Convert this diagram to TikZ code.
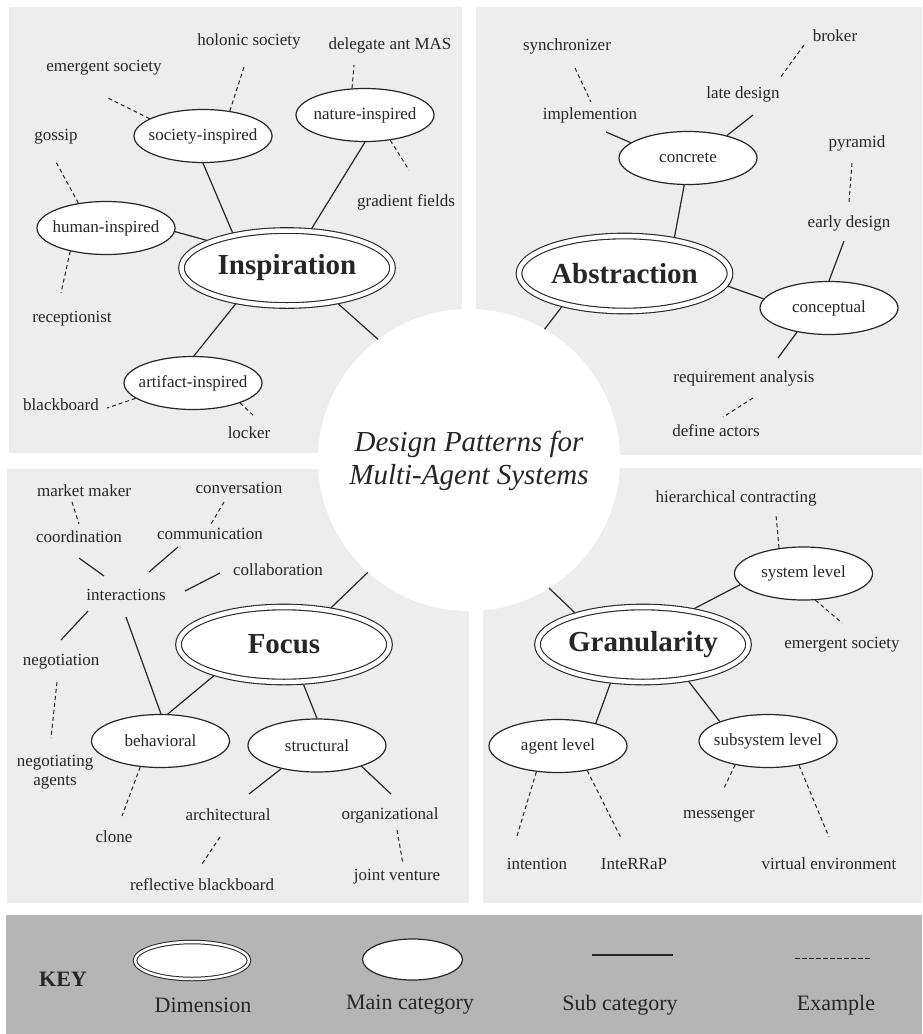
\documentclass[tikz,border=0pt]{standalone}
\usepackage{fontspec}
\setmainfont{Liberation Serif}
\usetikzlibrary{shapes.geometric}
\definecolor{panel}{HTML}{EDEDED}
\definecolor{keybg}{HTML}{B5B5B5}
\definecolor{ink}{HTML}{262626}
\begin{document}
\begin{tikzpicture}[x=1pt,y=-1pt,
  dimnode/.style={ellipse, draw=ink, double=white, double distance=4.5pt, line width=1.1pt,
    fill=white, minimum width=211pt, minimum height=75pt, inner sep=0pt, outer sep=3.35pt,
    text=ink, font=\fontsize{29}{34}\selectfont\bfseries},
  catnode/.style={ellipse, draw=ink, line width=1.2pt, fill=white, minimum width=138pt,
    minimum height=53pt, inner sep=0pt, text=ink, font=\fontsize{17}{20}\selectfont},
  lbl/.style={inner sep=0pt, text=ink, font=\fontsize{17}{20}\selectfont},
  keylbl/.style={inner sep=0pt, text=ink, font=\fontsize{22}{26}\selectfont},
  sub/.style={draw=ink, line width=1.2pt},
  ex/.style={draw=ink, line width=1pt, dash pattern=on 4pt off 3pt}
]
\useasboundingbox (0,0) rectangle (922,1034);
% panels
\fill[panel] (9,7) rectangle (462,453);
\fill[panel] (476,7) rectangle (922,455);
\fill[panel] (7,469) rectangle (469,903);
\fill[panel] (483,468) rectangle (922,903);
\fill[keybg] (6,915) rectangle (922,1034);

% central circle
\node[circle, fill=white, minimum size=302pt, inner sep=0pt, outer sep=0pt] (core) at (469,460) {};
\node[align=center, text=ink, font=\fontsize{29}{33}\selectfont\itshape, inner sep=0pt] (title) at (469,461)
  {Design Patterns for\\Multi-Agent Systems};

% ---------------- Inspiration ----------------
\node[dimnode] (insp) at (287,268) {\makebox[0pt]{Inspiration}};
\node[catnode] (soc) at (203,136) {\makebox[0pt]{society-inspired}};
\node[catnode] (nat) at (365,115) {\makebox[0pt]{nature-inspired}};
\node[catnode] (hum) at (106,228) {\makebox[0pt]{human-inspired}};
\node[catnode] (art) at (193,383) {\makebox[0pt]{artifact-inspired}};

\node[lbl] (holonic) at (249,41) {holonic society};
\node[lbl] (delegate) at (390,45) {delegate ant MAS};
\node[lbl] (emergentA) at (104,68) {emergent society};
\node[lbl] (gossip) at (56,137) {gossip};
\node[lbl] (gradient) at (406,202) {gradient fields};
\node[lbl] (recept) at (72,319) {receptionist};
\node[lbl] (blackb) at (61,405) {blackboard};
\node[lbl] (locker) at (249,433) {locker};

\coordinate (hol-e) at (244,67);
\coordinate (emg-e) at (108,98);
\coordinate (del-e) at (354,65);
\coordinate (gra-e) at (409,170);
\coordinate (gos-e) at (56,162);
\coordinate (rec-e) at (61,293);
\coordinate (bla-e) at (107,408);
\coordinate (loc-e) at (254,416);
\draw[ex] (soc.43) -- (hol-e);
\draw[ex] (soc.162) -- (emg-e);
\draw[ex] (nat.116) -- (del-e);
\draw[ex] (nat.-45) -- (gra-e);
\draw[ex] (hum.138) -- (gos-e);
\draw[ex] (hum.213) -- (rec-e);
\draw[ex] (art.195) -- (bla-e);
\draw[ex] (art.-23) -- (loc-e);
\draw[sub] (soc.270) -- (insp.147);
\draw[sub] (nat.270) -- (insp.58);
\draw[sub] (hum.-3) -- (insp.161);
\draw[sub] (art.88) -- (insp.215);
\draw[sub] (insp.325) -- (core.127);

% ---------------- Abstraction ----------------
\node[dimnode] (abs) at (624.5,273.5) {\makebox[0pt]{Abstraction}};
\node[catnode] (con) at (688,158) {\makebox[0pt]{concrete}};
\node[catnode] (cpt) at (829,308) {\makebox[0pt]{conceptual}};

\node[lbl] (synch) at (567,46) {synchronizer};
\node[lbl] (broker) at (835,36) {broker};
\node[lbl] (late) at (743,94) {late design};
\node[lbl] (implem) at (590,115) {implemention};
\node[lbl] (pyramid) at (857,143) {pyramid};
\node[lbl] (early) at (849,223) {early design};
\node[lbl] (reqan) at (744,378) {requirement analysis};
\node[lbl] (defact) at (716,431) {define actors};

\coordinate (imp-e) at (606,132);
\coordinate (late-e) at (753,115);
\coordinate (syn-a) at (575,68);
\coordinate (syn-b) at (591,102);
\coordinate (bro-a) at (804,45);
\coordinate (bro-b) at (780,78);
\coordinate (pyr-a) at (852,163);
\coordinate (pyr-b) at (849,202);
\coordinate (early-e) at (844,241);
\coordinate (req-e) at (778,358);
\coordinate (def-a) at (753,398);
\coordinate (def-b) at (723,417);
\draw[sub] (con.262) -- (abs.36);
\draw[sub] (abs.-7) -- (cpt.172);
\draw[sub] (abs.208) -- (core.60);
\draw[sub] (con.165) -- (imp-e);
\draw[sub] (con.30) -- (late-e);
\draw[ex] (syn-a) -- (syn-b);
\draw[ex] (bro-a) -- (bro-b);
\draw[ex] (pyr-a) -- (pyr-b);
\draw[sub] (cpt.90) -- (early-e);
\draw[sub] (cpt.217) -- (req-e);
\draw[ex] (def-a) -- (def-b);

% ---------------- Focus ----------------
\node[dimnode] (foc) at (284,644.5) {\makebox[0pt]{Focus}};
\node[catnode] (beh) at (160.5,741) {\makebox[0pt]{behavioral}};
\node[catnode] (str) at (317,745.5) {\makebox[0pt]{structural}};

\node[lbl] (market) at (84,491) {market maker};
\node[lbl] (convers) at (239,488) {conversation};
\node[lbl] (coord) at (79,537) {coordination};
\node[lbl] (commun) at (210,534) {communication};
\node[lbl] (collab) at (278,570) {collaboration};
\node[lbl] (interact) at (126,595) {interactions};
\node[lbl] (negot) at (61,662) {negotiation};
\node[lbl, align=center] (negag) at (55,772) {negotiating\\[-1pt]agents};
\node[lbl] (clone) at (114,837) {clone};
\node[lbl] (archit) at (228,815) {architectural};
\node[lbl] (organ) at (390,815) {organizational};
\node[lbl] (reflect) at (202,885) {reflective blackboard};
\node[lbl] (joint) at (397,877) {joint venture};

\coordinate (int-beh) at (126,617);
\coordinate (clo-e) at (122,816);
\coordinate (arc-e) at (249,794);
\coordinate (org-e) at (391,794);
\coordinate (mm-a) at (72,502);
\coordinate (mm-b) at (79,524);
\coordinate (cv-a) at (224,502);
\coordinate (cv-b) at (211,524);
\coordinate (co-a) at (79,558);
\coordinate (co-b) at (104,576);
\coordinate (cm-a) at (178,547);
\coordinate (cm-b) at (149,572);
\coordinate (cl-a) at (220,573);
\coordinate (cl-b) at (185,591);
\coordinate (ng-a) at (88,611);
\coordinate (ng-b) at (61,640);
\coordinate (na-a) at (57,682);
\coordinate (na-b) at (51,738);
\coordinate (rf-a) at (220,837);
\coordinate (rf-b) at (202,864);
\coordinate (jv-a) at (397,830);
\coordinate (jv-b) at (403,864);
\draw[sub] (foc.204) -- (beh.75);
\draw[sub] (foc.-64) -- (str.90);
\draw[sub] (foc.38) -- (core.228);
\draw[sub] (int-beh) -- (beh.89);
\draw[ex] (beh.232) -- (clo-e);
\draw[sub] (str.213) -- (arc-e);
\draw[sub] (str.-25) -- (org-e);
\draw[ex] (mm-a) -- (mm-b);
\draw[ex] (cv-a) -- (cv-b);
\draw[sub] (co-a) -- (co-b);
\draw[sub] (cm-a) -- (cm-b);
\draw[sub] (cl-a) -- (cl-b);
\draw[sub] (ng-a) -- (ng-b);
\draw[ex] (na-a) -- (na-b);
\draw[ex] (rf-a) -- (rf-b);
\draw[ex] (jv-a) -- (jv-b);

% ---------------- Granularity ----------------
\node[dimnode] (gran) at (643,644.5) {\makebox[0pt]{Granularity}};
\node[catnode] (sys) at (803.5,573.5) {\makebox[0pt]{system level}};
\node[catnode] (agt) at (558,746) {\makebox[0pt]{agent level}};
\node[catnode] (subs) at (768,741) {\makebox[0pt]{subsystem level}};

\node[lbl] (hierc) at (736,498) {hierarchical contracting};
\node[lbl] (emergentB) at (842,645) {emergent society};
\node[lbl] (messenger) at (719,816) {messenger};
\node[lbl] (intention) at (537,864) {intention};
\node[lbl] (interrap) at (634,864) {InteRRaP};
\node[lbl] (virtual) at (829,864) {virtual environment};

\coordinate (hie-e) at (776,515);
\coordinate (emb-e) at (842,623);
\coordinate (itn-e) at (517,836);
\coordinate (irr-e) at (621,838);
\coordinate (mes-e) at (723,790);
\coordinate (vir-e) at (829,837);
\draw[sub] (core.-58) -- (gran.155);
\draw[sub] (gran.35) -- (sys.190);
\draw[sub] (gran.230) -- (agt.31);
\draw[sub] (gran.-39) -- (subs.158);
\draw[ex] (sys.134) -- (hie-e);
\draw[ex] (sys.-66) -- (emb-e);
\draw[ex] (agt.230) -- (itn-e);
\draw[ex] (agt.-40) -- (irr-e);
\draw[ex] (subs.216) -- (mes-e);
\draw[ex] (subs.-38) -- (vir-e);

% ---------------- Key ----------------
\node[inner sep=0pt, text=ink, font=\fontsize{22}{26}\selectfont\bfseries] (keyword) at (63,979) {KEY};
\node[ellipse, draw=ink, double=white, double distance=2.5pt, line width=1pt, fill=white,
  minimum width=114pt, minimum height=37pt, inner sep=0pt] (keydim) at (192,960.5) {};
\node[ellipse, draw=ink, line width=1.2pt, fill=white, minimum width=100pt, minimum height=41pt,
  inner sep=0pt] (keycat) at (412.5,959.5) {};
\coordinate (ks-a) at (592,955);
\coordinate (ks-b) at (673,955);
\coordinate (ke-a) at (795,958);
\coordinate (ke-b) at (872,958);
\draw[draw=ink, line width=1.4pt] (ks-a) -- (ks-b);
\draw[draw=ink, line width=0.9pt, dash pattern=on 4.5pt off 2.5pt] (ke-a) -- (ke-b);
\node[keylbl] (kdim) at (203,1005) {Dimension};
\node[keylbl] (kcat) at (410,1005) {Main category};
\node[keylbl] (ksub) at (620,1005) {Sub category};
\node[keylbl] (kex) at (836,1005) {Example};
\end{tikzpicture}
\end{document}
